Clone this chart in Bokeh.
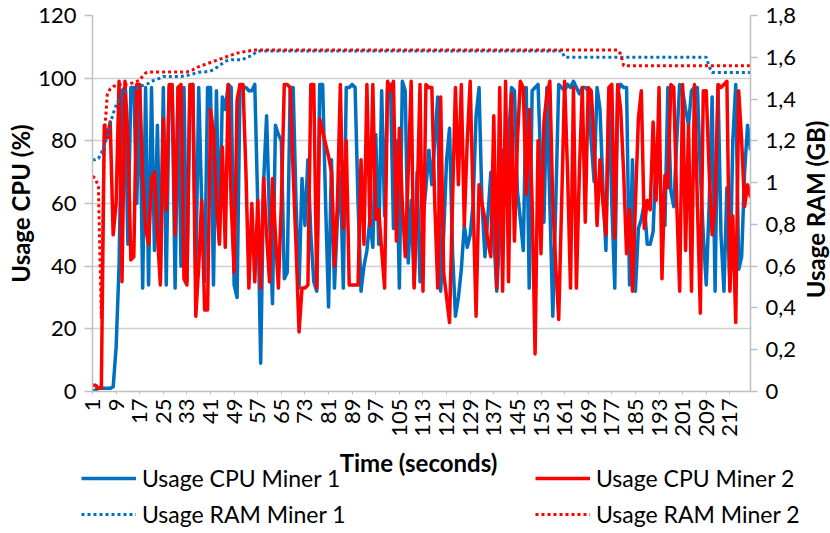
import math
from bokeh.plotting import figure
from bokeh.layouts import row
from bokeh.models import (Range1d, LinearAxis, FixedTicker, CustomJSTickFormatter,
                          Legend, LegendItem, Label)
from bokeh.embed import file_html
from bokeh.resources import INLINE

# ---------------- data ----------------
cpu_miner1 = [
    0, 0.5, 1, 1, 1, 1, 1, 1.5, 14, 40,
    96, 97, 47, 97, 97, 60, 98, 33, 97, 34,
    97, 45, 85, 37, 97, 34, 97, 96, 33, 97,
    40, 97, 35, 97, 98, 36, 97, 60, 35, 97,
    97, 34, 96, 48, 94, 90, 98, 97, 34, 30,
    98, 97, 97, 96, 96, 98, 60, 9, 67, 88,
    55, 28, 85, 82, 80, 36, 38, 97, 97, 60,
    33, 68, 53, 74, 50, 35, 32, 98, 98, 60,
    27, 74, 33, 55, 70, 33, 97, 97, 98, 97,
    60, 32, 40, 45, 55, 46, 82, 47, 96, 56,
    97, 98, 52, 80, 33, 99, 96, 41, 61, 34,
    70, 35, 55, 65, 77, 66, 80, 94, 32, 50,
    74, 84, 45, 24, 30, 39, 53, 46, 50, 60,
    88, 97, 60, 43, 56, 70, 50, 32, 50, 77,
    60, 80, 97, 96, 64, 55, 45, 97, 33, 96,
    97, 98, 70, 54, 97, 60, 24, 60, 98, 97,
    96, 98, 97, 99, 97, 95, 97, 97, 96, 80,
    67, 97, 90, 65, 45, 96, 60, 33, 96, 98,
    97, 97, 34, 74, 32, 52, 55, 60, 47, 47,
    51, 76, 70, 60, 53, 97, 64, 59, 80, 98,
    96, 90, 85, 96, 97, 97, 70, 50, 34, 60,
    94, 32, 97, 50, 32, 65, 33, 80, 98, 39,
    43, 70, 85, 77,
]

cpu_miner2 = [
    2, 2, 1, 1, 85, 81, 86, 50, 60, 99,
    35, 99, 81, 42, 43, 98, 98, 68, 52, 47,
    68, 70, 50, 34, 87, 58, 98, 98, 50, 97,
    98, 36, 34, 98, 98, 24, 40, 61, 26, 26,
    90, 83, 60, 47, 78, 46, 98, 60, 38, 93,
    98, 98, 70, 33, 60, 35, 61, 33, 68, 50,
    35, 68, 50, 33, 60, 98, 98, 97, 70, 46,
    19, 33, 33, 34, 98, 98, 33, 87, 83, 79,
    75, 70, 40, 60, 98, 52, 80, 34, 34, 34,
    34, 74, 47, 98, 53, 98, 55, 58, 45, 33,
    99, 96, 99, 48, 84, 60, 43, 70, 99, 33,
    60, 98, 32, 98, 97, 97, 60, 33, 94, 38,
    30, 22, 60, 97, 66, 98, 53, 80, 99, 60,
    24, 66, 60, 55, 48, 43, 88, 33, 97, 32,
    99, 35, 95, 48, 80, 99, 97, 63, 90, 60,
    12, 80, 44, 86, 95, 99, 60, 40, 23, 60,
    99, 70, 33, 97, 33, 70, 97, 54, 97, 96,
    80, 53, 74, 60, 50, 97, 98, 49, 98, 90,
    70, 44, 58, 32, 60, 87, 96, 52, 61, 58,
    86, 61, 97, 36, 69, 65, 98, 97, 60, 32,
    98, 45, 85, 32, 98, 60, 25, 96, 96, 70,
    50, 60, 98, 97, 98, 99, 32, 56, 22, 96,
    80, 59, 66, 62,
]

ram_miner1 = [
    1.11, 1.11, 1.115, 1.14, 1.18, 1.22, 1.28, 1.33, 1.37, 1.40,
    1.42, 1.435, 1.44, 1.44, 1.445, 1.45, 1.46, 1.465, 1.47, 1.475,
    1.485, 1.49, 1.495, 1.50, 1.508, 1.508, 1.508, 1.508, 1.508, 1.508,
    1.508, 1.51, 1.512, 1.517, 1.52, 1.525, 1.528, 1.53, 1.53, 1.532,
    1.535, 1.54, 1.55, 1.56, 1.57, 1.58, 1.585, 1.588, 1.588, 1.588,
    1.588, 1.588, 1.60, 1.603, 1.608, 1.62, 1.63, 1.63, 1.63, 1.63,
    1.63, 1.63, 1.63, 1.63, 1.63, 1.63, 1.63, 1.63, 1.63, 1.63,
    1.63, 1.63, 1.63, 1.63, 1.63, 1.63, 1.63, 1.63, 1.63, 1.63,
    1.63, 1.63, 1.63, 1.63, 1.63, 1.63, 1.63, 1.63, 1.63, 1.63,
    1.63, 1.63, 1.63, 1.63, 1.63, 1.63, 1.63, 1.63, 1.63, 1.63,
    1.63, 1.63, 1.63, 1.63, 1.63, 1.63, 1.63, 1.63, 1.63, 1.63,
    1.63, 1.63, 1.63, 1.63, 1.63, 1.63, 1.63, 1.63, 1.63, 1.63,
    1.63, 1.63, 1.63, 1.63, 1.63, 1.63, 1.63, 1.63, 1.63, 1.63,
    1.63, 1.63, 1.63, 1.63, 1.63, 1.63, 1.63, 1.63, 1.63, 1.63,
    1.63, 1.63, 1.63, 1.63, 1.63, 1.63, 1.63, 1.63, 1.63, 1.63,
    1.63, 1.63, 1.63, 1.63, 1.63, 1.63, 1.63, 1.63, 1.63, 1.63,
    1.60, 1.60, 1.60, 1.60, 1.60, 1.60, 1.60, 1.60, 1.60, 1.60,
    1.60, 1.60, 1.60, 1.60, 1.60, 1.60, 1.60, 1.60, 1.60, 1.60,
    1.60, 1.60, 1.60, 1.60, 1.60, 1.60, 1.60, 1.60, 1.60, 1.60,
    1.60, 1.60, 1.60, 1.60, 1.60, 1.60, 1.60, 1.60, 1.60, 1.60,
    1.60, 1.60, 1.60, 1.60, 1.60, 1.60, 1.60, 1.60, 1.60, 1.555,
    1.527, 1.527, 1.527, 1.527, 1.527, 1.527, 1.527, 1.527, 1.527, 1.527,
    1.527, 1.527, 1.527, 1.527,
]

ram_miner2 = [
    1.03, 1.02, 0.98, 0.35, 1.22, 1.42, 1.45, 1.46, 1.465, 1.47,
    1.47, 1.47, 1.47, 1.475, 1.48, 1.485, 1.49, 1.51, 1.525, 1.53,
    1.53, 1.53, 1.53, 1.53, 1.53, 1.53, 1.53, 1.53, 1.53, 1.53,
    1.53, 1.53, 1.53, 1.535, 1.54, 1.55, 1.555, 1.56, 1.565, 1.57,
    1.575, 1.58, 1.585, 1.59, 1.595, 1.60, 1.605, 1.61, 1.615, 1.62,
    1.62, 1.625, 1.63, 1.63, 1.635, 1.635, 1.635, 1.635, 1.635, 1.635,
    1.635, 1.635, 1.635, 1.635, 1.635, 1.635, 1.635, 1.635, 1.635, 1.635,
    1.635, 1.635, 1.635, 1.635, 1.635, 1.635, 1.635, 1.635, 1.635, 1.635,
    1.635, 1.635, 1.635, 1.635, 1.635, 1.635, 1.635, 1.635, 1.635, 1.635,
    1.635, 1.635, 1.635, 1.635, 1.635, 1.635, 1.635, 1.635, 1.635, 1.635,
    1.635, 1.635, 1.635, 1.635, 1.635, 1.635, 1.635, 1.635, 1.635, 1.635,
    1.635, 1.635, 1.635, 1.635, 1.635, 1.635, 1.635, 1.635, 1.635, 1.635,
    1.635, 1.635, 1.635, 1.635, 1.635, 1.635, 1.635, 1.635, 1.635, 1.635,
    1.635, 1.635, 1.635, 1.635, 1.635, 1.635, 1.635, 1.635, 1.635, 1.635,
    1.635, 1.635, 1.635, 1.635, 1.635, 1.635, 1.635, 1.635, 1.635, 1.635,
    1.635, 1.635, 1.635, 1.635, 1.635, 1.635, 1.635, 1.635, 1.635, 1.635,
    1.635, 1.635, 1.635, 1.635, 1.635, 1.635, 1.635, 1.635, 1.635, 1.635,
    1.635, 1.635, 1.635, 1.635, 1.635, 1.635, 1.635, 1.635, 1.635, 1.615,
    1.56, 1.56, 1.56, 1.56, 1.56, 1.56, 1.56, 1.56, 1.56, 1.56,
    1.56, 1.56, 1.56, 1.56, 1.56, 1.56, 1.56, 1.56, 1.56, 1.56,
    1.56, 1.56, 1.56, 1.56, 1.56, 1.56, 1.56, 1.56, 1.56, 1.56,
    1.56, 1.56, 1.56, 1.56, 1.56, 1.56, 1.56, 1.56, 1.56, 1.56,
    1.56, 1.56, 1.56, 1.56,
]

x_ticks = [1, 9, 17, 25, 33, 41, 49, 57, 65, 73, 81, 89, 97, 105, 113, 121,
           129, 137, 145, 153, 161, 169, 177, 185, 193, 201, 209, 217]
cpu_ticks = [0, 20, 40, 60, 80, 100, 120]
ram_ticks = [0, 0.2, 0.4, 0.6, 0.8, 1.0, 1.2, 1.4, 1.6, 1.8]

labels = ["Usage CPU Miner 1", "Usage CPU Miner 2", "Usage RAM Miner 1", "Usage RAM Miner 2"]
x_title = "Time (seconds)"
y_title = "Usage CPU (%)"
y2_title = "Usage RAM (GB)"

# ---------------- styling ----------------
FONT = "Lato"
BLUE = "#0070C0"
RED = "#FF0000"
AXIS_GRAY = "#bfbfbf"
TICK_FS = "22px"
TITLE_FS = "24px"
LEG_FS = "23px"
W = 830
SIDE_W = 30
MAIN_W = W - SIDE_W
MAIN_H = 442
LEG_H = 533 - MAIN_H
FRAME_TOP = 15
FRAME_BOTTOM = 391

# ---------------- main chart ----------------
n = len(cpu_miner1)
p = figure(width=MAIN_W, height=MAIN_H, output_backend="svg", toolbar_location=None,
           x_range=Range1d(1, n), y_range=Range1d(0, 120),
           min_border_left=92, min_border_right=MAIN_W - 750, min_border_top=FRAME_TOP,
           min_border_bottom=MAIN_H - FRAME_BOTTOM)
p.extra_y_ranges = {"ram": Range1d(0, 1.8)}
p.outline_line_color = None
p.background_fill_color = "white"
p.border_fill_color = "white"

p.xgrid.visible = False
p.ygrid.ticker = FixedTicker(ticks=cpu_ticks)
p.ygrid.grid_line_color = "#d0d0d0"
p.ygrid.grid_line_width = 1.5

ya = p.yaxis[0]
ya.ticker = FixedTicker(ticks=cpu_ticks)
ya.axis_label = y_title
ya.axis_label_text_font = FONT
ya.axis_label_text_font_style = "bold"
ya.axis_label_text_font_size = TITLE_FS
ya.axis_label_text_color = "#000000"
ya.axis_label_standoff = 0
ya.major_label_text_font = FONT
ya.major_label_text_font_size = TICK_FS
ya.major_label_text_color = "#000000"
ya.major_label_standoff = 8
ya.axis_line_color = AXIS_GRAY
ya.axis_line_width = 1.5
ya.major_tick_line_color = AXIS_GRAY
ya.major_tick_line_width = 1.5
ya.major_tick_in = 0
ya.major_tick_out = 8
ya.minor_tick_line_color = None

xa = p.xaxis[0]
xa.ticker = FixedTicker(ticks=x_ticks)
xa.major_label_orientation = math.pi / 2
xa.major_label_text_font = FONT
xa.major_label_text_font_size = TICK_FS
xa.major_label_text_color = "#000000"
xa.major_label_standoff = 4
xa.axis_line_color = AXIS_GRAY
xa.axis_line_width = 1.5
xa.major_tick_line_color = AXIS_GRAY
xa.major_tick_in = 0
xa.major_tick_out = 3
xa.minor_tick_line_color = None

ra = LinearAxis(y_range_name="ram", ticker=FixedTicker(ticks=ram_ticks),
                formatter=CustomJSTickFormatter(
                    code="return (Math.round(tick*10)/10).toString().replace('.', ',');"))
ra.major_label_text_font = FONT
ra.major_label_text_font_size = TICK_FS
ra.major_label_text_color = "#000000"
ra.major_label_standoff = 8
ra.axis_line_color = AXIS_GRAY
ra.axis_line_width = 1.5
ra.major_tick_line_color = AXIS_GRAY
ra.major_tick_line_width = 1.5
ra.major_tick_in = 0
ra.major_tick_out = 7
ra.minor_tick_line_color = None
p.add_layout(ra, "right")

line_styles = [
    dict(line_color=BLUE, line_width=3.5, line_join="round"),
    dict(line_color=RED, line_width=3.5, line_join="round"),
    dict(line_color=BLUE, line_width=3, line_dash="3 3"),
    dict(line_color=RED, line_width=3, line_dash="3 3"),
]
series = [cpu_miner1, cpu_miner2, ram_miner1, ram_miner2]
ranges = ["default", "default", "ram", "ram"]

for vals, st, rn in zip(series, line_styles, ranges):
    p.line(list(range(1, len(vals) + 1)), vals, y_range_name=rn, **st)

# ---------------- thin strip at the right: secondary axis title ----------------
frame_h = FRAME_BOTTOM - FRAME_TOP
r = figure(width=SIDE_W, height=MAIN_H, output_backend="svg", toolbar_location=None,
           x_range=Range1d(0, SIDE_W), y_range=Range1d(0, frame_h),
           x_axis_type=None, y_axis_type=None,
           min_border_left=0, min_border_right=0, min_border_top=FRAME_TOP,
           min_border_bottom=MAIN_H - FRAME_BOTTOM)
r.outline_line_color = None
r.xgrid.visible = False
r.ygrid.visible = False
r.background_fill_color = "white"
r.border_fill_color = "white"
r.add_layout(Label(x=SIDE_W / 2, y=FRAME_BOTTOM - 209, text=y2_title, angle=math.pi / 2,
                   text_align="center", text_baseline="middle", text_font=FONT,
                   text_font_style="bold", text_font_size=TITLE_FS, text_color="#000000"))

# ---------------- strip below: x title + legend ----------------
q = figure(width=W, height=LEG_H, output_backend="svg", toolbar_location=None,
           x_range=Range1d(0, W), y_range=Range1d(0, LEG_H),
           x_axis_type=None, y_axis_type=None,
           min_border_left=0, min_border_right=0, min_border_top=0, min_border_bottom=0)
q.outline_line_color = None
q.xgrid.visible = False
q.ygrid.visible = False
q.background_fill_color = "white"
q.border_fill_color = "white"
# keys for the legend: the same series, drawn on a range that keeps them out of view
q.extra_y_ranges = {"hidden": Range1d(1000, 1001)}
keys = [q.line(list(range(1, len(vals) + 1)), vals, y_range_name="hidden", **st)
        for vals, st in zip(series, line_styles)]

q.add_layout(Label(x=418, y=LEG_H - 20, text=x_title, text_align="center",
                   text_baseline="middle", text_font=FONT, text_font_style="bold",
                   text_font_size=TITLE_FS, text_color="#000000"))


def make_legend(items, loc):
    lg = Legend(items=items, orientation="horizontal", location=loc)
    lg.label_text_font = FONT
    lg.label_text_font_size = LEG_FS
    lg.label_text_color = "#000000"
    lg.glyph_width = 55
    lg.glyph_height = 24
    lg.label_height = 24
    lg.label_width = 393
    lg.label_standoff = 6
    lg.spacing = 0
    lg.padding = 0
    lg.margin = 0
    lg.border_line_color = None
    lg.background_fill_alpha = 0
    return lg


leg1 = make_legend([LegendItem(label=labels[0], renderers=[keys[0]]),
                    LegendItem(label=labels[1], renderers=[keys[1]])], (81, 41))
leg2 = make_legend([LegendItem(label=labels[2], renderers=[keys[2]]),
                    LegendItem(label=labels[3], renderers=[keys[3]])], (81, 5))
q.add_layout(leg1)
q.add_layout(leg2)

open("out.html", "w").write(file_html([row(p, r, spacing=0), q], INLINE))
